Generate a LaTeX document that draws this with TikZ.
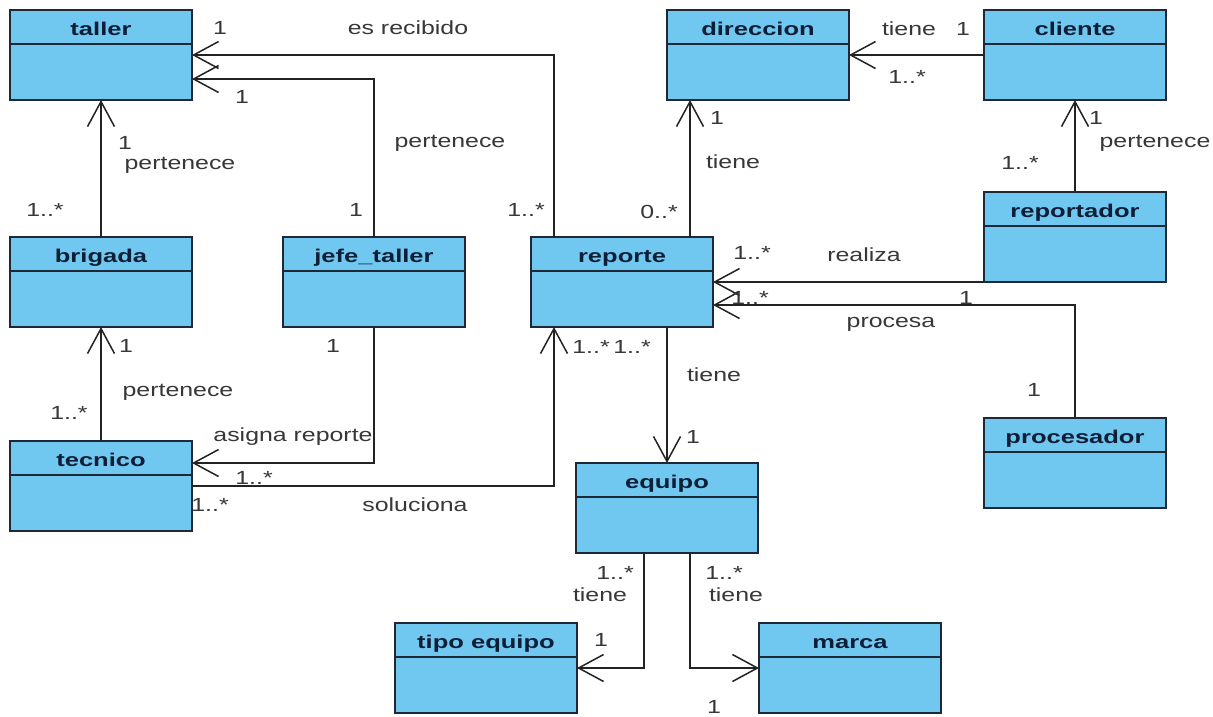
\documentclass[tikz,border=0pt]{standalone}
\usepackage{fontspec}
\setmainfont{Liberation Sans}[FakeStretch=1.38]
\newfontfamily\lblfont{Liberation Sans}[FakeStretch=1.31]
\usetikzlibrary{arrows.meta}
\definecolor{clsfill}{RGB}{112,200,240}
\definecolor{clsborder}{RGB}{30,40,55}
\definecolor{titlecol}{RGB}{15,30,55}
\definecolor{lblcol}{RGB}{55,55,55}
\definecolor{linecol}{RGB}{35,35,35}
\newcommand\umlcls[3]{%
  \node[cls] (#1) at (#2) {};
  \draw[divider] ([yshift=-34pt]#1.north west) -- ([yshift=-34pt]#1.north east);
  \node[ctitle] (#1-title) at ([yshift=-25pt]#1.north) {#3};
}
\begin{document}
\begin{tikzpicture}[x=1pt,y=-1pt,
  cls/.style={draw=clsborder, line width=1.8pt, fill=clsfill, minimum width=182pt, minimum height=90pt, anchor=north west, inner sep=0pt, outer sep=0pt},
  divider/.style={draw=clsborder, line width=1.8pt},
  ctitle/.style={font=\bfseries\fontsize{18.5}{20}\selectfont, text=titlecol, inner sep=0pt, anchor=base},
  lbl/.style={font=\lblfont\fontsize{19}{21}\selectfont, text=lblcol, inner sep=0pt},
  assoc/.style={draw=linecol, line width=1.5pt, -{Straight Barb[length=25pt,width=27pt,line width=1.5pt]}},
]
\useasboundingbox[fill=white] (0,0) rectangle (1213,716);

\umlcls{taller}{10,10}{taller}
\umlcls{direccion}{667,10}{direccion}
\umlcls{cliente}{984,10}{cliente}
\umlcls{brigada}{10,237}{brigada}
\umlcls{jefe}{283,237}{jefe\_taller}
\umlcls{reporte}{531,237}{reporte}
\umlcls{reportador}{984,192}{reportador}
\umlcls{tecnico}{10,441}{tecnico}
\umlcls{equipo}{576,463}{equipo}
\umlcls{procesador}{984,418}{procesador}
\umlcls{tipo}{395,623}{tipo equipo}
\umlcls{marca}{759,623}{marca}

% connectors
\draw[assoc] (brigada.north) -- (taller.south);
\draw[assoc] (jefe.north) |- ([yshift=-24pt]taller.east);
\draw[assoc] ([xshift=23pt]reporte.north west) |- (taller.east);
\draw[assoc] (cliente.west) -- (direccion.east);
\draw[assoc] ([xshift=-23pt]reporte.north east) -- ([xshift=23pt]direccion.south west);
\draw[assoc] (reportador.north) -- (cliente.south);
\draw[assoc] (tecnico.north) -- (brigada.south);
\draw[assoc] (jefe.south) |- ([yshift=-22pt]tecnico.north east);
\draw[assoc] ([yshift=-45pt]tecnico.north east) -| ([xshift=23pt]reporte.south west);
\draw[assoc] (equipo.north |- reporte.south) -- (equipo.north);
\draw[assoc] (reporte.east -| reportador.west) -- (reporte.east);
\draw[assoc] (procesador.north) |- ([yshift=-23pt]reporte.east);
\draw[assoc] ([xshift=-23pt]equipo.south) |- (tipo.east);
\draw[assoc] ([xshift=23pt]equipo.south) |- (marca.west);

% labels
\node[lbl] (l01) at (125,143) {1};
\node[lbl] (l02) at (180,165) {pertenece};
\node[lbl] (l03) at (45,210) {1..*};
\node[lbl] (l04) at (220,28) {1};
\node[lbl] (l05) at (408,28) {es recibido};
\node[lbl] (l06) at (242,97) {1};
\node[lbl] (l07) at (450,143) {pertenece};
\node[lbl] (l08) at (356,210) {1};
\node[lbl] (l09) at (526,210) {1..*};
\node[lbl] (l10) at (909,29) {tiene};
\node[lbl] (l11) at (963,29) {1};
\node[lbl] (l12) at (907,77) {1..*};
\node[lbl] (l13) at (717,118) {1};
\node[lbl] (l14) at (733,162) {tiene};
\node[lbl] (l15) at (659,212) {0..*};
\node[lbl] (l16) at (1096,118) {1};
\node[lbl] (l17) at (1155,143) {pertenece};
\node[lbl] (l18) at (1020,163) {1..*};
\node[lbl] (l19) at (126,346) {1};
\node[lbl] (l20) at (178,392) {pertenece};
\node[lbl] (l21) at (69,413) {1..*};
\node[lbl] (l22) at (333,346) {1};
\node[lbl] (l23) at (293,437) {asigna reporte};
\node[lbl] (l24) at (254,478) {1..*};
\node[lbl] (l25) at (415,505) {soluciona};
\node[lbl] (l26) at (210,505) {1..*};
\node[lbl] (l27) at (591,347) {1..*};
\node[lbl] (l28) at (632,347) {1..*};
\node[lbl] (l29) at (714,375) {tiene};
\node[lbl] (l30) at (693,437) {1};
\node[lbl] (l31) at (752,253) {1..*};
\node[lbl] (l32) at (864,255) {realiza};
\node[lbl] (l33) at (750,298) {1..*};
\node[lbl] (l34) at (966,298) {1};
\node[lbl] (l35) at (891,324) {procesa};
\node[lbl] (l36) at (1034,390) {1};
\node[lbl] (l37) at (615,573) {1..*};
\node[lbl] (l38) at (600,595) {tiene};
\node[lbl] (l39) at (601,640) {1};
\node[lbl] (l40) at (724,573) {1..*};
\node[lbl] (l41) at (736,595) {tiene};
\node[lbl] (l42) at (714,707) {1};
\end{tikzpicture}
\end{document}
